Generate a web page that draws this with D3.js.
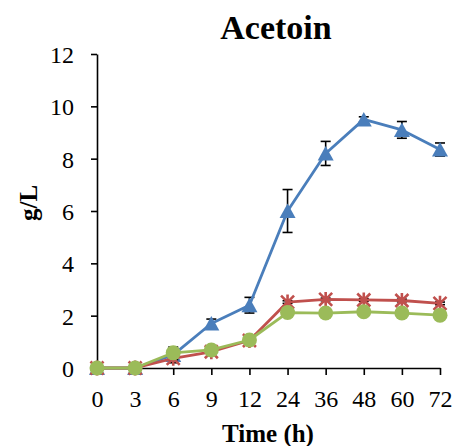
<!DOCTYPE html>
<html>
<head>
<meta charset="utf-8">
<script src="https://cdn.jsdelivr.net/npm/d3@7"></script>
<style>
  html, body { margin: 0; padding: 0; background: #fff; }
  svg { display: block; font-family: "Liberation Serif", "Times New Roman", serif; }
</style>
</head>
<body>
<svg id="chart" width="456" height="446"></svg>
<script>
// Sampling times (h) and acetoin titres (g/L) for three strains
const times = ["0", "3", "6", "9", "12", "24", "36", "48", "60", "72"];
const blueValues  = [0, 0, 0.5, 1.7, 2.4, 6.0, 8.2, 9.5, 9.1, 8.35];
const blueErrors  = [0, 0, 0.3, 0.17, 0.3, 0.82, 0.46, 0.1, 0.32, 0.25];
const redValues   = [0, 0, 0.37, 0.62, 1.05, 2.52, 2.62, 2.6, 2.58, 2.47];
const redErrors   = [0, 0, 0.05, 0.05, 0.05, 0.05, 0.05, 0.05, 0.05, 0.05];
const greenValues = [0, 0, 0.58, 0.69, 1.07, 2.12, 2.1, 2.15, 2.1, 2.02];
const greenErrors = [0, 0, 0, 0, 0, 0, 0, 0, 0, 0];
const yTicks = [0, 2, 4, 6, 8, 10, 12];

const svg = d3.select("#chart");
const x = d3.scalePoint().domain(times).range([97, 440]);
const y = d3.scaleLinear().domain([0, 12]).range([368, 54]);

// Title
svg.append("text")
  .attr("x", 276).attr("y", 39)
  .attr("text-anchor", "middle")
  .attr("font-size", 34).attr("font-weight", "bold")
  .text("Acetoin");

// Y axis
const yAxis = svg.append("g")
  .attr("transform", "translate(97,0)")
  .call(d3.axisLeft(y).tickValues(yTicks).tickSize(6).tickPadding(17).tickSizeOuter(0));
yAxis.select(".domain").attr("stroke", "#000").attr("stroke-width", 1.6);
yAxis.selectAll(".tick line").attr("stroke", "#000").attr("stroke-width", 1.6);
yAxis.selectAll(".tick text")
  .attr("font-size", 24).attr("font-family", "Liberation Serif").attr("fill", "#000")
  .attr("dy", "0.35em");

// X axis
const xAxis = svg.append("g")
  .attr("transform", "translate(0,368)")
  .call(d3.axisBottom(x).tickSize(7).tickPadding(15).tickSizeOuter(0));
xAxis.select(".domain").attr("stroke", "#000").attr("stroke-width", 1.6);
xAxis.selectAll(".tick line").attr("stroke", "#000").attr("stroke-width", 1.6);
xAxis.selectAll(".tick text")
  .attr("font-size", 24).attr("font-family", "Liberation Serif").attr("fill", "#000");

// Axis titles
svg.append("text")
  .attr("x", 268).attr("y", 442)
  .attr("text-anchor", "middle")
  .attr("font-size", 25).attr("font-weight", "bold")
  .text("Time (h)");
svg.append("text")
  .attr("transform", "translate(37,203) rotate(-90)")
  .attr("text-anchor", "middle")
  .attr("font-size", 25).attr("font-weight", "bold")
  .text("g/L");

const series = [
  { values: blueValues,  errors: blueErrors,  color: "#4A7EBB", marker: "triangle" },
  { values: redValues,   errors: redErrors,   color: "#C0504D", marker: "star" },
  { values: greenValues, errors: greenErrors, color: "#9BBB59", marker: "circle" }
];

const line = d3.line().x(d => x(d.t)).y(d => y(d.v));

series.forEach(s => {
  const pts = times.map((t, i) => ({ t, v: s.values[i], e: s.errors[i] }));
  const g = svg.append("g");

  // Error bars
  const eb = g.append("g").attr("stroke", "#000").attr("stroke-width", 1.6);
  pts.filter(d => d.e > 0).forEach(d => {
    const cx = x(d.t);
    eb.append("line").attr("x1", cx).attr("x2", cx).attr("y1", y(d.v - d.e)).attr("y2", y(d.v + d.e));
    [d.v - d.e, d.v + d.e].forEach(v => {
      eb.append("line").attr("x1", cx - 5).attr("x2", cx + 5).attr("y1", y(v)).attr("y2", y(v));
    });
  });

  // Connecting line
  g.append("path").datum(pts)
    .attr("fill", "none").attr("stroke", s.color)
    .attr("stroke-width", 2.8).attr("stroke-linejoin", "round")
    .attr("d", line);

  // Markers
  const mk = g.append("g");
  pts.forEach(d => {
    const cx = x(d.t), cy = y(d.v);
    if (s.marker === "circle") {
      mk.append("circle").attr("cx", cx).attr("cy", cy).attr("r", 7.5).attr("fill", s.color);
    } else if (s.marker === "triangle") {
      mk.append("path")
        .attr("d", `M${cx},${cy - 7.5} L${cx + 8},${cy + 7} L${cx - 8},${cy + 7} Z`)
        .attr("fill", s.color);
    } else {
      const r = 6.5;
      mk.append("path")
        .attr("d", `M${cx - r},${cy - r} L${cx + r},${cy + r} M${cx - r},${cy + r} L${cx + r},${cy - r} M${cx},${cy - r - 1} L${cx},${cy + r + 1}`)
        .attr("stroke", s.color).attr("stroke-width", 2.6).attr("fill", "none");
    }
  });
});
</script>
</body>
</html>
